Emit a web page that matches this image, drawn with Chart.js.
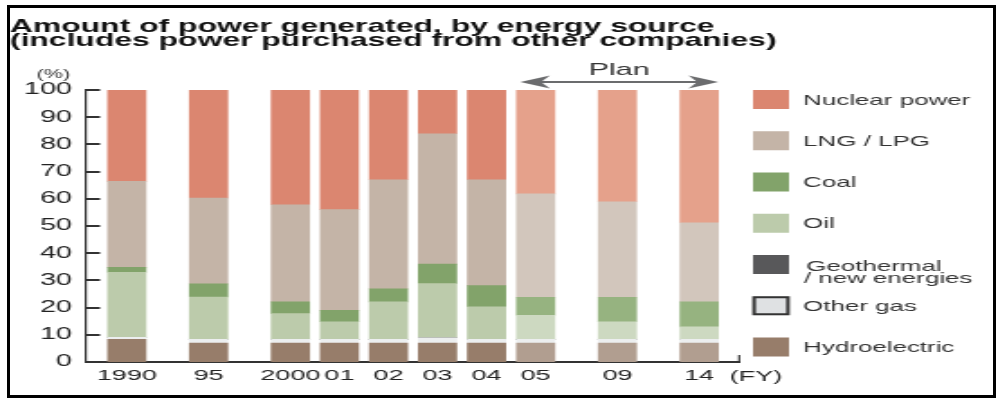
<!DOCTYPE html>
<html>
<head>
<meta charset="utf-8">
<script src="https://cdn.jsdelivr.net/npm/chart.js@4/dist/chart.umd.min.js"></script>
<style>
  html, body { margin: 0; padding: 0; background: #fff; }
  #frame { position: absolute; left: 7px; top: 5px; width: 989px; height: 393px; box-sizing: border-box; border: 3px solid #000; pointer-events: none; }
  #wrap { position: absolute; left: 0; top: 0; width: 554px; height: 399px; transform: scaleX(1.8014440433); transform-origin: 0 0; }
</style>
</head>
<body>
<div id="wrap"><canvas id="c" width="554" height="399"></canvas></div>
<div id="frame"></div>
<script>
// ---- data ----
const titleLines = ['Amount of power generated, by energy source', '(includes power purchased from other companies)'];
const fiscalYears = [1990, 1995, 2000, 2001, 2002, 2003, 2004, 2005, 2009, 2014];
const tickLabels = ['1990', '95', '2000', '01', '02', '03', '04', '05', '09', '14'];
const planStart = 2005;
const yTicks = [0, 10, 20, 30, 40, 50, 60, 70, 80, 90, 100];

const hydro      = [8.3, 7.0, 7.0, 7.0, 7.0, 7.0, 7.0, 7.0, 7.0, 7.0];
const otherGas   = [0.8, 1.3, 1.3, 1.3, 1.3, 1.9, 1.3, 1.3, 1.3, 1.3];
const geothermal = [0, 0, 0, 0, 0, 0, 0, 0, 0, 0];
const oil        = [23.9, 15.6, 9.5, 6.5, 13.8, 19.9, 12.0, 8.9, 6.5, 4.6];
const coal       = [1.8, 4.8, 4.3, 4.2, 4.8, 7.2, 7.8, 6.6, 9.0, 9.2];
const lng        = [31.6, 31.6, 35.7, 37.0, 40.1, 47.9, 38.9, 38.0, 35.1, 29.1];
const nuclear    = [33.6, 39.7, 42.2, 44.0, 33.0, 16.1, 33.0, 38.2, 41.1, 48.8];

// ---- layout helpers (positions derived from the years: consecutive years sit closer) ----
const positions = [];
fiscalYears.forEach((yr, i) => {
  positions.push(i === 0 ? 0 : positions[i - 1] + (yr - fiscalYears[i - 1] > 1 ? 5 : 3));
});
const xMin = -2.5, xMax = positions[positions.length - 1] + 2.5;
const BAR = 21.1;
const FONT = '"Liberation Sans", Arial, Helvetica, sans-serif';

function series(label, values, actual, plan, legendColor, legendLines, boxed) {
  return {
    label: label,
    data: values.map((v, i) => ({ x: positions[i], y: v })),
    backgroundColor: fiscalYears.map(yr => yr >= planStart ? plan : actual),
    borderWidth: 0,
    barThickness: BAR,
    legendColor: legendColor,
    legendLines: legendLines,
    legendBoxed: boxed
  };
}

const datasets = [
  series('Hydroelectric', hydro, '#977d6a', '#b19e90', '#977d6a', ['Hydroelectric']),
  series('Other gas', otherGas, '#eceeef', '#eceeef', '#dfe1e3', ['Other gas'], true),
  series('Geothermal / new energies', geothermal, '#58585a', '#58585a', '#58585a', ['Geothermal', '/ new energies']),
  series('Oil', oil, '#bccbab', '#cdd9c1', '#bccbab', ['Oil']),
  series('Coal', coal, '#82a36a', '#96b380', '#82a36a', ['Coal']),
  series('LNG / LPG', lng, '#c4b4a7', '#d2c6bc', '#c4b4a7', ['LNG / LPG']),
  series('Nuclear power', nuclear, '#db8670', '#e5a18b', '#db8670', ['Nuclear power'])
];

const decor = {
  id: 'decor',
  afterDraw(chart) {
    const { ctx, chartArea: ca, scales: { x, y } } = chart;
    ctx.save();
    // title
    ctx.fillStyle = '#111';
    ctx.font = 'bold 17.7px ' + FONT;
    ctx.textAlign = 'left';
    ctx.textBaseline = 'alphabetic';
    titleLines.forEach((t, i) => ctx.fillText(t, 5.5, 32 + i * 14));
    // unit label
    ctx.fillStyle = '#333';
    ctx.font = '12px ' + FONT;
    ctx.textAlign = 'center';
    ctx.textBaseline = 'middle';
    ctx.fillText('(%)', 29.7, 74.5);
    // inner y ticks
    ctx.strokeStyle = '#333';
    ctx.lineWidth = 2;
    y.ticks.forEach(t => {
      const py = Math.round(y.getPixelForValue(t.value));
      ctx.beginPath();
      ctx.moveTo(ca.left, py);
      ctx.lineTo(ca.left + 7.8, py);
      ctx.stroke();
    });
    // end tick of x axis
    ctx.lineWidth = 1.1;
    ctx.beginPath();
    ctx.moveTo(ca.right - 0.5, ca.bottom + 1);
    ctx.lineTo(ca.right - 0.5, ca.bottom - 7);
    ctx.stroke();
    // (FY)
    ctx.fillStyle = '#222';
    ctx.font = '15px ' + FONT;
    ctx.textAlign = 'left';
    ctx.textBaseline = 'middle';
    ctx.fillText('(FY)', 405, 376.5);
    // Plan arrow over the plan bars
    const iPlan = fiscalYears.findIndex(yr => yr >= planStart);
    const xa = x.getPixelForValue(positions[iPlan]) - BAR / 2 + 2;
    const xb = x.getPixelForValue(positions[positions.length - 1]) + BAR / 2;
    const ay = 82, L = 16.5, H = 6.5;
    ctx.strokeStyle = '#6b6c6e';
    ctx.fillStyle = '#6b6c6e';
    ctx.lineWidth = 2;
    ctx.beginPath();
    ctx.moveTo(xa + 4, ay);
    ctx.lineTo(xb - 4, ay);
    ctx.stroke();
    [[xa, 1], [xb, -1]].forEach(([tx, d]) => {
      ctx.beginPath();
      ctx.moveTo(tx, ay);
      ctx.lineTo(tx + d * L, ay - H);
      ctx.lineTo(tx + d * L * 0.7, ay);
      ctx.lineTo(tx + d * L, ay + H);
      ctx.closePath();
      ctx.fill();
    });
    ctx.fillStyle = '#333';
    ctx.font = '17px ' + FONT;
    ctx.textAlign = 'center';
    ctx.textBaseline = 'alphabetic';
    ctx.fillText('Plan', (xa + xb) / 2, 75);
    // legend (top to bottom = stack top to bottom)
    const items = chart.data.datasets.slice().reverse();
    ctx.font = '14.4px ' + FONT;
    ctx.textAlign = 'left';
    items.forEach((ds, i) => {
      const cy = 99.5 + i * 41.25;
      ctx.fillStyle = ds.legendColor;
      ctx.fillRect(418, cy - 9.5, 20, 19);
      if (ds.legendBoxed) {
        ctx.strokeStyle = '#333';
        ctx.lineWidth = 2;
        ctx.strokeRect(418.6, cy - 8.5, 18.8, 17);
      }
      ctx.fillStyle = '#333';
      ctx.textBaseline = 'alphabetic';
      if (ds.legendLines.length === 1) {
        ctx.fillText(ds.legendLines[0], 445.8, cy + 5.2);
      } else {
        ctx.fillText(ds.legendLines[0], 447.5, cy + 6);
        ctx.fillText(ds.legendLines[1], 446.2, cy + 18.5);
      }
    });
    ctx.restore();
  }
};

new Chart(document.getElementById('c'), {
  type: 'bar',
  data: { datasets: datasets },
  options: {
    responsive: false,
    animation: false,
    devicePixelRatio: 1,
    layout: { padding: { top: 90, right: 143.2, bottom: 0, left: 0 } },
    plugins: { legend: { display: false }, title: { display: false }, tooltip: { enabled: false } },
    scales: {
      x: {
        type: 'linear',
        min: xMin,
        max: xMax,
        offset: false,
        stacked: true,
        grid: { display: false, offset: false, drawTicks: false },
        border: { display: true, color: '#333', width: 2 },
        afterBuildTicks: s => { s.ticks = positions.map(v => ({ value: v })); },
        afterFit: s => { s.height = 37; },
        ticks: {
          autoSkip: false,
          maxRotation: 0,
          padding: 5,
          color: '#222',
          font: { family: FONT, size: 15 },
          callback: v => tickLabels[positions.indexOf(v)]
        }
      },
      y: {
        min: 0,
        max: 100,
        stacked: true,
        grid: { display: false, drawTicks: false },
        border: { display: true, color: '#333', width: 1.2 },
        afterBuildTicks: s => { s.ticks = yTicks.map(v => ({ value: v })); },
        afterFit: s => { s.width = 47.7; },
        ticks: {
          padding: 7.7,
          color: '#222',
          font: { family: FONT, size: 16 },
          callback: v => String(v)
        }
      }
    }
  },
  plugins: [decor]
});
</script>
</body>
</html>
